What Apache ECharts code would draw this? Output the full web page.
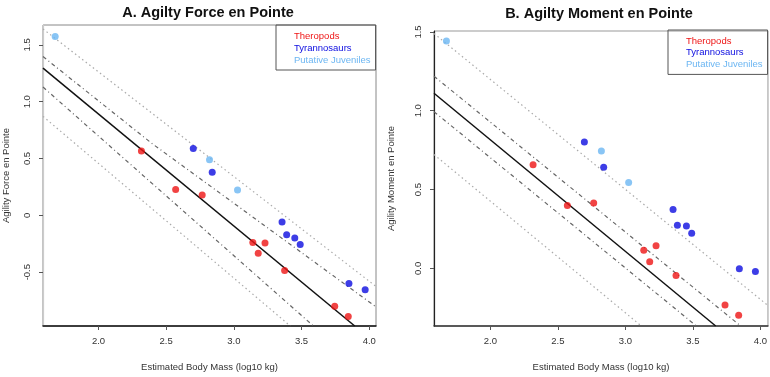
<!DOCTYPE html>
<html>
<head>
<meta charset="utf-8">
<script src="https://cdn.jsdelivr.net/npm/echarts@6/dist/echarts.min.js"></script>
<style>
  html, body { margin: 0; padding: 0; background: #fff; }
  #chart { width: 770px; height: 377px; }
</style>
</head>
<body>
<div id="chart"></div>
<script>
// points: [log10 body mass, agility]
var theropodsA = [[2.317, 0.567], [2.57, 0.228], [2.766, 0.178], [3.14, -0.24], [3.23, -0.243], [3.18, -0.333], [3.375, -0.485], [3.745, -0.80], [3.845, -0.89]];
var tyrannosaursA = [[2.70, 0.588], [2.84, 0.38], [3.356, -0.058], [3.39, -0.17], [3.45, -0.20], [3.49, -0.257], [3.85, -0.60], [3.97, -0.655]];
var juvenilesA = [[1.68, 1.573], [2.82, 0.49], [3.027, 0.222]];

var theropodsB = [[2.316, 0.658], [2.57, 0.398], [2.765, 0.414], [3.136, 0.115], [3.227, 0.144], [3.18, 0.042], [3.375, -0.046], [3.738, -0.232], [3.839, -0.297]];
var tyrannosaursB = [[2.696, 0.802], [2.839, 0.641], [3.353, 0.373], [3.385, 0.274], [3.452, 0.268], [3.491, 0.222], [3.844, -0.002], [3.963, -0.02]];
var juvenilesB = [[1.674, 1.443], [2.822, 0.745], [3.024, 0.544]];

// regression line and bands, read at the plot edges
var fitA = [[1.59, 1.296], [3.893, -0.974]];
var ciUpperA = [[1.59, 1.397], [2.395, 0.632], [4.05, -0.806]];
var ciLowerA = [[1.59, 1.129], [3.588, -0.974]];
var piUpperA = [[1.59, 1.64], [4.05, -0.626]];
var piLowerA = [[1.59, 0.871], [3.417, -0.974]];

var fitB = [[1.582, 1.111], [3.669, -0.366]];
var ciUpperB = [[1.582, 1.219], [3.854, -0.366]];
var ciLowerB = [[1.582, 0.994], [3.526, -0.366]];
var piUpperB = [[1.582, 1.49], [4.056, -0.236]];
var piLowerB = [[1.582, 0.722], [3.118, -0.366]];

var xTicks = [2.0, 2.5, 3.0, 3.5, 4.0];
var yTicksA = [-0.5, 0, 0.5, 1.0, 1.5];
var yTicksB = [0, 0.5, 1.0, 1.5];

var groups = ['Theropods', 'Tyrannosaurs', 'Putative Juveniles'];
var colors = ['#ee1414', '#0c0ce0', '#6cb6f2'];

var font = 'Liberation Sans, Arial, sans-serif';
var chart = echarts.init(document.getElementById('chart'), null, { renderer: 'canvas' });

function xAxisFor(i, min, max, bottomColor) {
  return {
    type: 'value', gridIndex: i, min: min, max: max,
    name: 'Estimated Body Mass (log10 kg)', nameLocation: 'middle', nameGap: 36,
    nameTextStyle: { fontFamily: font, fontSize: 9.5, color: '#333' },
    splitLine: { show: false },
    axisLine: { show: true, onZero: false, lineStyle: { color: bottomColor, width: 1.5 } },
    axisTick: { show: true, length: 4, customValues: xTicks, lineStyle: { color: '#555' } },
    axisLabel: {
      customValues: xTicks, margin: 10, fontFamily: font, fontSize: 9.5, color: '#333',
      formatter: function (v) { return v.toFixed(1); }
    }
  };
}

function yAxisFor(i, min, max, ticks, name, gap, leftColor, zeroLabel) {
  return {
    type: 'value', gridIndex: i, min: min, max: max,
    name: name, nameLocation: 'middle', nameGap: gap, nameRotate: 90,
    nameTextStyle: { fontFamily: font, fontSize: 9.5, color: '#333' },
    splitLine: { show: false },
    axisLine: { show: true, onZero: false, lineStyle: { color: leftColor, width: 1.2 } },
    axisTick: { show: true, length: 4, customValues: ticks, lineStyle: { color: '#555' } },
    axisLabel: {
      customValues: ticks, rotate: 90, margin: 11, fontFamily: font, fontSize: 9.5, color: '#333',
      formatter: function (v) { return v === 0 ? zeroLabel : v.toFixed(1); }
    }
  };
}

function lineSeries(i, data, color, type, width) {
  return {
    type: 'line', xAxisIndex: i, yAxisIndex: i, data: data,
    showSymbol: false, silent: true, clip: true, z: 2,
    lineStyle: { color: color, type: type, width: width }
  };
}

function pointSeries(i, name, data, color) {
  return {
    type: 'scatter', name: name, xAxisIndex: i, yAxisIndex: i, data: data,
    symbol: 'circle', symbolSize: 7, z: 5,
    itemStyle: { color: color }
  };
}

function legendFor(left, top, gap) {
  return {
    orient: 'vertical', left: left, top: top,
    icon: 'none', itemWidth: 10, itemHeight: 10, itemGap: gap,
    padding: [6, 5, 5, 3],
    borderColor: '#555', borderWidth: 1,
    selectedMode: false,
    textStyle: { fontFamily: font, fontSize: 9.5 },
    data: groups.map(function (g, k) {
      return { name: g, icon: 'none', textStyle: { color: colors[k] } };
    })
  };
}

var option = {
  animation: false,
  backgroundColor: '#fff',
  title: [
    { text: 'A. Agilty Force en Pointe', left: 203, top: 0, textAlign: 'center',
      textStyle: { fontFamily: font, fontSize: 14.5, fontWeight: 'bold', color: '#111' } },
    { text: 'B. Agilty Moment en Pointe', left: 594, top: 1, textAlign: 'center',
      textStyle: { fontFamily: font, fontSize: 14.5, fontWeight: 'bold', color: '#111' } }
  ],
  legend: [legendFor(276, 25, 2), legendFor(668, 30, 1.7)],
  grid: [
    { left: 40, top: 25, width: 336, height: 302, show: true, borderColor: '#888', borderWidth: 1 },
    { left: 434, top: 31, width: 334, height: 298, show: true, borderColor: '#999', borderWidth: 1 }
  ],
  xAxis: [
    xAxisFor(0, 1.59, 4.05, '#111'),
    xAxisFor(1, 1.582, 4.056, '#333')
  ],
  yAxis: [
    yAxisFor(0, -0.974, 1.675, yTicksA, 'Agility Force en Pointe', 32, '#ccc', '0'),
    yAxisFor(1, -0.366, 1.506, yTicksB, 'Agility Moment en Pointe', 38, '#222', '0.0')
  ],
  series: [
    lineSeries(0, piUpperA, '#aaa', [1.5, 3], 1.2),
    lineSeries(0, piLowerA, '#aaa', [1.5, 3], 1.2),
    lineSeries(0, ciUpperA, '#666', [4, 3, 1, 3], 1.2),
    lineSeries(0, ciLowerA, '#666', [4, 3, 1, 3], 1.2),
    lineSeries(0, fitA, '#111', 'solid', 1.5),
    pointSeries(0, groups[0], theropodsA, colors[0]),
    pointSeries(0, groups[1], tyrannosaursA, colors[1]),
    pointSeries(0, groups[2], juvenilesA, colors[2]),

    lineSeries(1, piUpperB, '#aaa', [1.5, 3], 1.2),
    lineSeries(1, piLowerB, '#aaa', [1.5, 3], 1.2),
    lineSeries(1, ciUpperB, '#666', [4, 3, 1, 3], 1.2),
    lineSeries(1, ciLowerB, '#666', [4, 3, 1, 3], 1.2),
    lineSeries(1, fitB, '#111', 'solid', 1.5),
    pointSeries(1, groups[0], theropodsB, colors[0]),
    pointSeries(1, groups[1], tyrannosaursB, colors[1]),
    pointSeries(1, groups[2], juvenilesB, colors[2])
  ]
};

chart.setOption(option);
</script>
</body>
</html>
